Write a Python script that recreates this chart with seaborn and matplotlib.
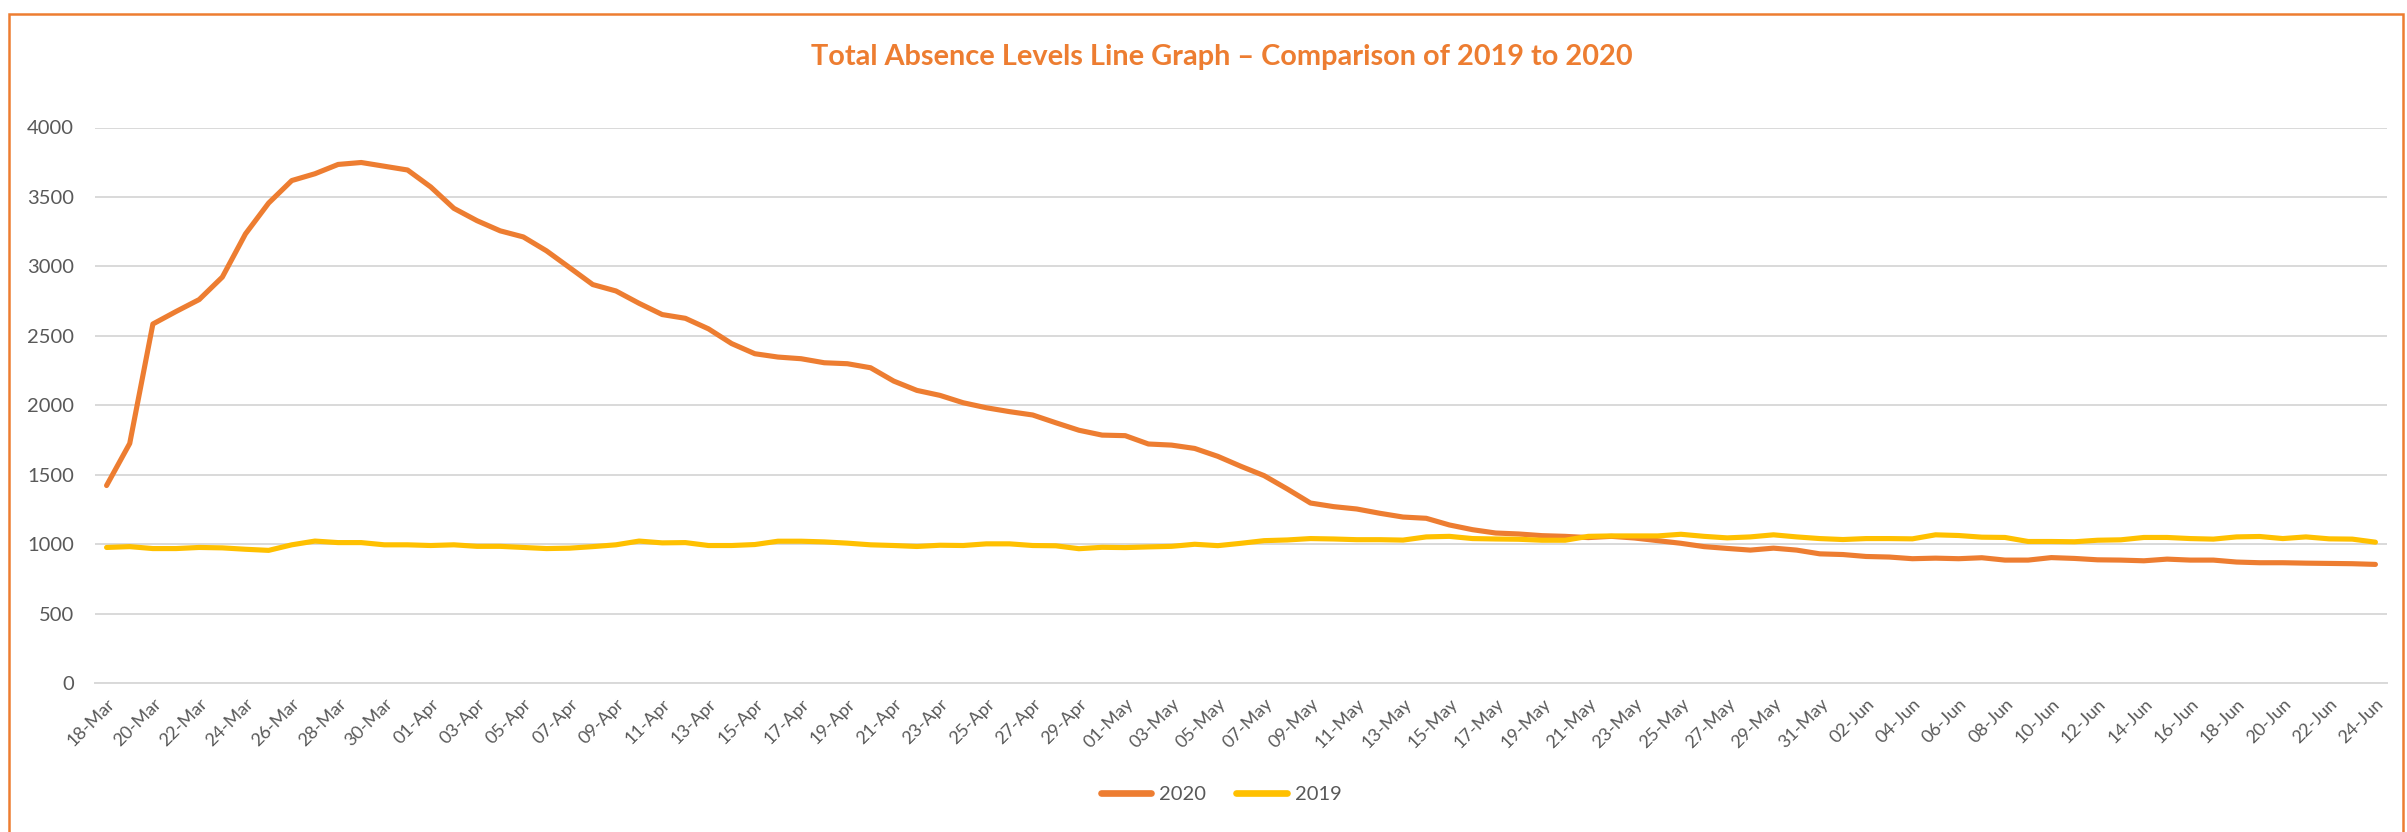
import numpy as np
import pandas as pd
import matplotlib
matplotlib.use('Agg')
import matplotlib.pyplot as plt
from matplotlib.lines import Line2D
from matplotlib.patches import Rectangle
import seaborn as sns


# daily figures, 18-Mar .. 24-Jun
start_date = '2020-03-18'
n_days = 99
absence_2020 = [
    1422, 1725, 2585, 2675, 2761, 2923, 3234, 3456, 3618, 3667,
    3734, 3748, 3721, 3694, 3572, 3418, 3329, 3256, 3212, 3112,
    2991, 2869, 2823, 2734, 2653, 2626, 2550, 2444, 2371, 2347,
    2335, 2306, 2299, 2270, 2174, 2107, 2071, 2018, 1982, 1954,
    1930, 1874, 1820, 1785, 1781, 1721, 1713, 1689, 1632, 1560,
    1493, 1397, 1296, 1270, 1253, 1222, 1195, 1186, 1138, 1104,
    1080, 1073, 1061, 1056, 1047, 1056, 1044, 1025, 1006, 982,
    969, 957, 971, 957, 930, 925, 911, 907, 895, 899,
    895, 902, 885, 885, 903, 897, 887, 885, 880, 892,
    885, 885, 871, 866, 866, 863, 861, 859, 854,
]
absence_2019 = [
    976, 982, 968, 968, 976, 973, 963, 955, 995, 1022,
    1011, 1011, 995, 995, 990, 995, 984, 984, 976, 968,
    971, 982, 995, 1022, 1009, 1011, 990, 990, 997, 1021,
    1021, 1016, 1007, 995, 990, 983, 992, 990, 1002, 1002,
    990, 988, 967, 977, 975, 980, 984, 999, 989, 1006,
    1025, 1030, 1040, 1037, 1032, 1032, 1029, 1052, 1056, 1040,
    1037, 1035, 1028, 1028, 1056, 1059, 1059, 1059, 1071, 1056,
    1045, 1052, 1067, 1052, 1040, 1033, 1040, 1040, 1038, 1067,
    1062, 1050, 1048, 1019, 1019, 1017, 1028, 1031, 1048, 1048,
    1040, 1036, 1052, 1055, 1040, 1052, 1038, 1036, 1014,
]
years = ['2020', '2019']
colors = {'2020': '#ED7D31', '2019': '#FFC000'}
y_ticks = list(range(0, 4001, 500))

date_labels = pd.date_range(start_date, periods=n_days, freq='D').strftime('%d-%b').tolist()

df = pd.DataFrame({
    'day': list(range(n_days)) * 2,
    'absence': absence_2020 + absence_2019,
    'year': ['2020'] * n_days + ['2019'] * n_days,
})

sns.set_style('white')
plt.rcParams['font.family'] = ['Lato', 'DejaVu Sans']

grey_text = '#595959'
grid_col = '#D9D9D9'

fig = plt.figure(figsize=(24.07, 8.32), dpi=100)
ax = fig.add_axes([95 / 2407, 149 / 832, 2292 / 2407, 555.5 / 832])

sns.lineplot(data=df, x='day', y='absence', hue='year', hue_order=years,
             palette=colors, linewidth=3.7, ax=ax, legend=False,
             solid_capstyle='round', solid_joinstyle='round')

ax.set_xlim(-0.5, n_days - 0.5)
ax.set_ylim(0, 4000)
ax.set_yticks(y_ticks)
ax.set_yticklabels([str(v) for v in y_ticks], fontsize=14.5, color=grey_text)
ax.tick_params(axis='y', length=0, pad=15)

label_pos = list(range(0, n_days, 2))
ax.set_xticks(label_pos)
ax.set_xticklabels([date_labels[i] for i in label_pos], rotation=45, ha='right',
                   rotation_mode='anchor', fontsize=13, color=grey_text)
ax.set_xticks(np.arange(-0.5, n_days - 1, 2), minor=True)
ax.tick_params(axis='x', which='major', length=0, pad=9)
ax.tick_params(axis='x', which='minor', length=5, width=1.3, color=grid_col)
ax.set_xlabel('')
ax.set_ylabel('')

ax.grid(axis='y', color=grid_col, linewidth=1.4)
ax.grid(axis='x', visible=False)
ax.set_axisbelow(True)
for side in ['top', 'right', 'left']:
    ax.spines[side].set_visible(False)
ax.spines['bottom'].set_color(grid_col)
ax.spines['bottom'].set_linewidth(1.4)

fig.text(1222 / 2407, 1 - 57 / 832,
         'Total Absence Levels Line Graph \u2013 Comparison of 2019 to 2020',
         ha='center', va='center', fontsize=20.8, fontweight='bold', color='#ED7D31')

handles = [Line2D([0], [0], color=colors[y], lw=4.8, solid_capstyle='round') for y in years]
leg = fig.legend(handles, years, loc='center', bbox_to_anchor=(1221 / 2407, 1 - 794 / 832),
                 ncol=2, frameon=False, fontsize=14.5, handlelength=2.5,
                 handletextpad=0.4, columnspacing=1.5)
for t in leg.get_texts():
    t.set_color(grey_text)

fig.patches.append(Rectangle((9 / 2407, -0.02), 2394 / 2407, (818 / 832) + 0.02,
                             transform=fig.transFigure, fill=False,
                             edgecolor='#ED7D31', linewidth=1.8))

fig.savefig('out.png', dpi=100)
plt.close(fig)
